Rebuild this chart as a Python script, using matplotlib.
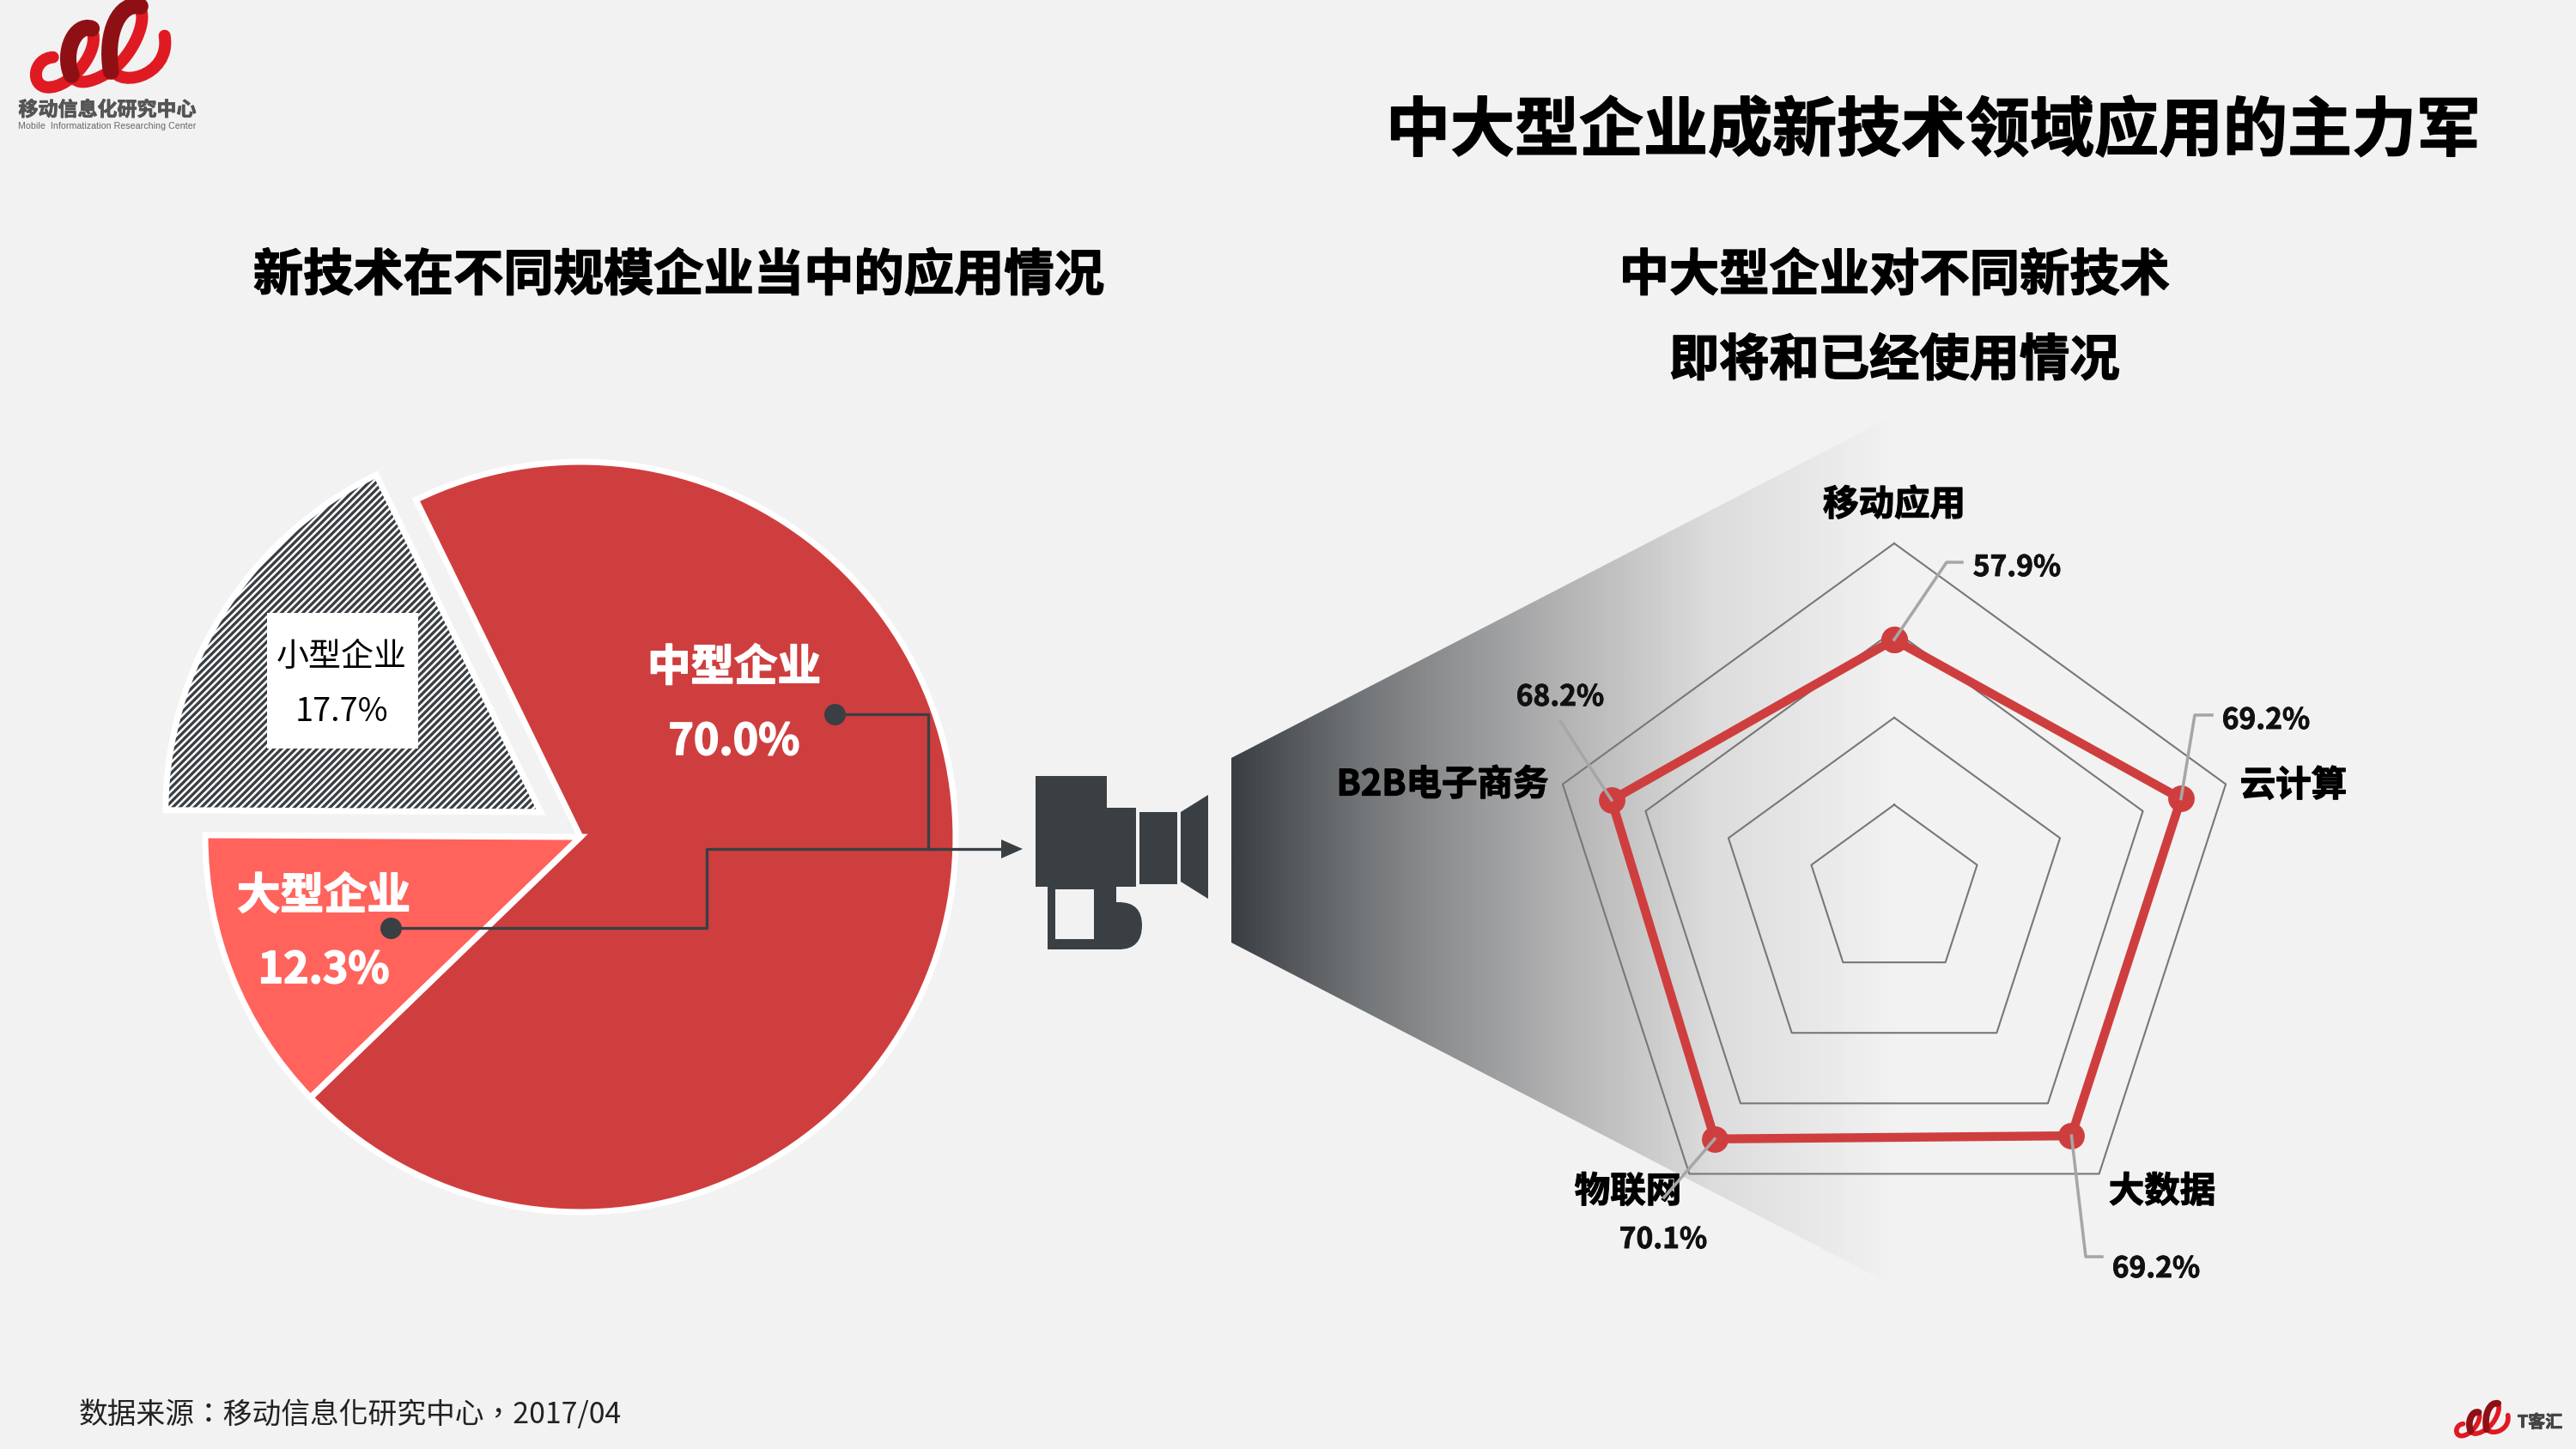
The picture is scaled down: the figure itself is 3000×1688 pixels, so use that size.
import numpy as np
import matplotlib
matplotlib.use('Agg')
import matplotlib.pyplot as plt
import matplotlib.patheffects as pe
from matplotlib.patches import Polygon, Rectangle, PathPatch
from matplotlib.path import Path
from matplotlib.colors import LinearSegmentedColormap

plt.rcParams['font.family'] = ['Noto Sans CJK SC', 'DejaVu Sans']
plt.rcParams['hatch.linewidth'] = 0.8

# pie data
pie_labels = ['中型企业', '大型企业', '小型企业']
pie_values = [70.0, 12.3, 17.7]
pie_colors = ['#cf3e3e', '#ff635c', 'white']
pie_explode = [0, 0, 0.125]

# radar data
radar_labels = ['移动应用', '云计算', '大数据', '物联网', 'B2B电子商务']
radar_values = [57.9, 69.2, 69.2, 70.1, 68.2]
radar_rings = [20, 40, 60, 80]

W, H = 3000, 1688
BG = '#f2f2f2'
DARK = '#3a3f44'
RED = '#cf3e3e'
GREY = '#a6a6a6'


def fs(px):
    # font size from pixel height of a full width character
    return px * 72 / 300


def rect(cx, cy, half):
    return [(cx - half) / W, 1 - (cy + half) / H, 2 * half / W, 2 * half / H]


def label(ax, x, y, s, px, color='black', heavy=0.0, **kw):
    # reference text sits a little lower than the font's own centre
    kw.setdefault('ha', 'center')
    t = ax.text(x, y + 3.5, s, fontsize=fs(px), color=color, va='center',
                fontweight='bold' if heavy else 'normal', **kw)
    if heavy:
        t.set_path_effects([pe.withStroke(linewidth=heavy, foreground=color)])
    return t


fig = plt.figure(figsize=(W / 300, H / 300), dpi=300, facecolor=BG)
bg = fig.add_axes([0, 0, 1, 1], zorder=0)
bg.set_xlim(0, W)
bg.set_ylim(H, 0)
bg.axis('off')

# spotlight behind the radar
cone = Polygon([(1434, 883), (2210, 482), (2210, 1500), (1434, 1098)], closed=True,
               fc='none', ec='none', transform=bg.transData)
bg.add_patch(cone)
cmap = LinearSegmentedColormap.from_list('spot', [(0, DARK), (0.2, '#747779'), (0.48, '#b0b0b1'),
                                                  (0.72, '#dcdcdd'), (1, BG)])
im = bg.imshow(np.linspace(0, 1, 400).reshape(1, -1), cmap=cmap, extent=(1434, 2210, 1500, 482),
               aspect='auto', zorder=1)
im.set_clip_path(cone)
bg.set_xlim(0, W)
bg.set_ylim(H, 0)


# logo ribbon, coordinates are in a 3x crop of the corner
def logo(ox, oy, s):
    def pts(p):
        return [(ox + s * x / 3, oy + s * y / 3) for x, y in p]
    body = [(185, 200), (115, 205), (105, 300), (165, 305),
            (250, 310), (355, 170), (320, 105),
            (285, 70), (225, 170), (245, 250),
            (265, 320), (350, 270), (385, 250),
            (470, 190), (520, 60), (485, 25),
            (440, -5), (375, 110), (385, 220),
            (395, 320), (600, 270), (575, 125)]
    dark1 = [(320, 100), (265, 80), (215, 180), (250, 262)]
    dark2 = [(490, 22), (420, 5), (365, 110), (388, 250)]
    codes = [Path.MOVETO] + [Path.CURVE4] * (len(body) - 1)
    bg.add_patch(PathPatch(Path(pts(body), codes), fc='none', ec='#e01a22', lw=fs(14 * s),
                           capstyle='round', zorder=3))
    for d in (dark1, dark2):
        bg.add_patch(PathPatch(Path(pts(d), [Path.MOVETO] + [Path.CURVE4] * 3), fc='none', ec='#8e1015',
                               lw=fs(19 * s), capstyle='round', zorder=4))


logo(0, 0, 1)
logo(2844, 1632, 0.4)
label(bg, 125, 125, '移动信息化研究中心', 23, color='#555555', heavy=0.2)
label(bg, 125, 143, 'Mobile  Informatization Researching Center', 10.7, color='#666666', family='Liberation Sans')
label(bg, 2958, 1653, 'T客汇', 20, color='#444444', heavy=0.2)

# titles
label(bg, 2889, 150, '中大型企业成新技术领域应用的主力军', 75, heavy=0.35, ha='right')
label(bg, 790, 318, '新技术在不同规模企业当中的应用情况', 58.3, heavy=0.35)
label(bg, 2206, 318, '中大型企业对不同新技术', 58.3, heavy=0.35)
label(bg, 2206, 417, '即将和已经使用情况', 58.3, heavy=0.35)
label(bg, 92, 1645, '数据来源：移动信息化研究中心，2017/04', 33.8, color='#222222', ha='left',
      family=['Noto Sans CJK TC', 'DejaVu Sans'])

# pie
R = 437
pie_ax = fig.add_axes(rect(676, 975, 1.3 * R), zorder=2)
wedges, _ = pie_ax.pie(pie_values, colors=pie_colors, startangle=116, counterclock=False, explode=pie_explode,
                       wedgeprops={'linewidth': 0})
wedges[2].set_hatch('/' * 12)
wedges[2].set_edgecolor(DARK)
wedges[2].set_linewidth(0)
pie_ax.pie(pie_values, colors=['none'] * 3, startangle=116, counterclock=False, explode=pie_explode,
           wedgeprops={'linewidth': 1.7, 'edgecolor': 'white'})
pie_ax.set_xlim(-1.3, 1.3)
pie_ax.set_ylim(-1.3, 1.3)

# overlay for connectors and pie labels
top = fig.add_axes([0, 0, 1, 1], zorder=4)
top.set_xlim(0, W)
top.set_ylim(H, 0)
top.axis('off')
top.patch.set_alpha(0)

top.plot([972, 1081, 1081], [832, 832, 989], color=DARK, lw=0.8, zorder=2)
top.plot([455, 823, 823, 1170], [1081, 1081, 989, 989], color=DARK, lw=0.8, zorder=2)
top.plot([972, 455], [832, 1081], ls='none', marker='o', ms=6, color=DARK, mec='none', zorder=3)
top.add_patch(Polygon([(1191, 989), (1166, 978), (1166, 1000)], fc=DARK, ec='none', zorder=3))

label(top, 855, 775, pie_labels[0], 50.5, color='white', heavy=0.4)
label(top, 855, 861, f'{pie_values[0]:.1f}%', 50, color='white', heavy=0.4)
label(top, 377, 1041, pie_labels[1], 50.5, color='white', heavy=0.4)
label(top, 377, 1127, f'{pie_values[1]:.1f}%', 50, color='white', heavy=0.4)
top.add_patch(Rectangle((311, 714), 176, 158, fc='white', ec='none', zorder=1))
label(top, 398, 762, pie_labels[2], 38, zorder=2)
label(top, 398, 826, f'{pie_values[2]:.1f}%', 38, zorder=2)

# camera icon
top.add_patch(Polygon([(1206, 904), (1289, 904), (1289, 941), (1323, 941), (1323, 1033), (1206, 1033)], fc=DARK, ec='none'))
top.add_patch(Rectangle((1327, 946), 44, 84, fc=DARK, ec='none'))
top.add_patch(Polygon([(1375, 946), (1407, 926), (1407, 1047), (1375, 1027)], fc=DARK, ec='none'))
foot = Path([(1220, 1033), (1300, 1033), (1300, 1051), (1303, 1051), (1330, 1051), (1330, 1078), (1330, 1106),
             (1303, 1106), (1220, 1106), (1220, 1033)],
            [Path.MOVETO, Path.LINETO, Path.LINETO, Path.LINETO, Path.CURVE3, Path.CURVE3, Path.CURVE3, Path.CURVE3,
             Path.LINETO, Path.CLOSEPOLY])
top.add_patch(PathPatch(foot, fc=DARK, ec='none'))
top.add_patch(Rectangle((1229, 1036), 45, 58, fc=BG, ec='none'))

# radar
radar_ax = fig.add_axes(rect(2206, 1039, 406), projection='polar', zorder=3)
radar_ax.set_theta_zero_location('N')
radar_ax.set_theta_direction(-1)
radar_ax.patch.set_alpha(0)
radar_ax.grid(False)
radar_ax.spines['polar'].set_visible(False)
radar_ax.set_xticks([])
radar_ax.set_yticks([])
radar_ax.set_ylim(0, radar_rings[-1])
theta = np.arange(len(radar_values)) * 2 * np.pi / len(radar_values)
theta_closed = np.append(theta, theta[0])
for ring in radar_rings:
    radar_ax.plot(theta_closed, [ring] * len(theta_closed), color='#777777', lw=0.5, clip_on=False)
radar_ax.plot(theta_closed, radar_values + radar_values[:1], color=RED, lw=2.5, marker='o', ms=6.4, clip_on=False, zorder=5)

# category labels and value labels with leader lines
label_pos = [(2206, 585), (2671, 912), (2518, 1385), (1896, 1385), (1680, 911)]
for name, (x, y) in zip(radar_labels, label_pos):
    label(top, x, y, name, 41.5, heavy=0.3)

value_pos = [(2349, 658), (2639, 836), (2511, 1475), (1937, 1441), (1817, 809)]
leaders = [[(2267, 655), (2285, 655)], [(2556, 833), (2576, 833)], [(2429, 1464), (2448, 1464)],
           [(1938, 1395)], [(1817, 840)]]
inv = top.transData.inverted()
for t, v, (x, y), tail in zip(theta, radar_values, value_pos, leaders):
    px, py = inv.transform(radar_ax.transData.transform((t, v)))
    xs = [px] + [p[0] for p in tail]
    ys = [py] + [p[1] for p in tail]
    top.plot(xs, ys, color=GREY, lw=0.85, zorder=6)
    label(top, x, y, f'{v:.1f}%', 33.5, color='#111111', heavy=0.2)

fig.savefig('out.png', dpi=300, facecolor=BG)
